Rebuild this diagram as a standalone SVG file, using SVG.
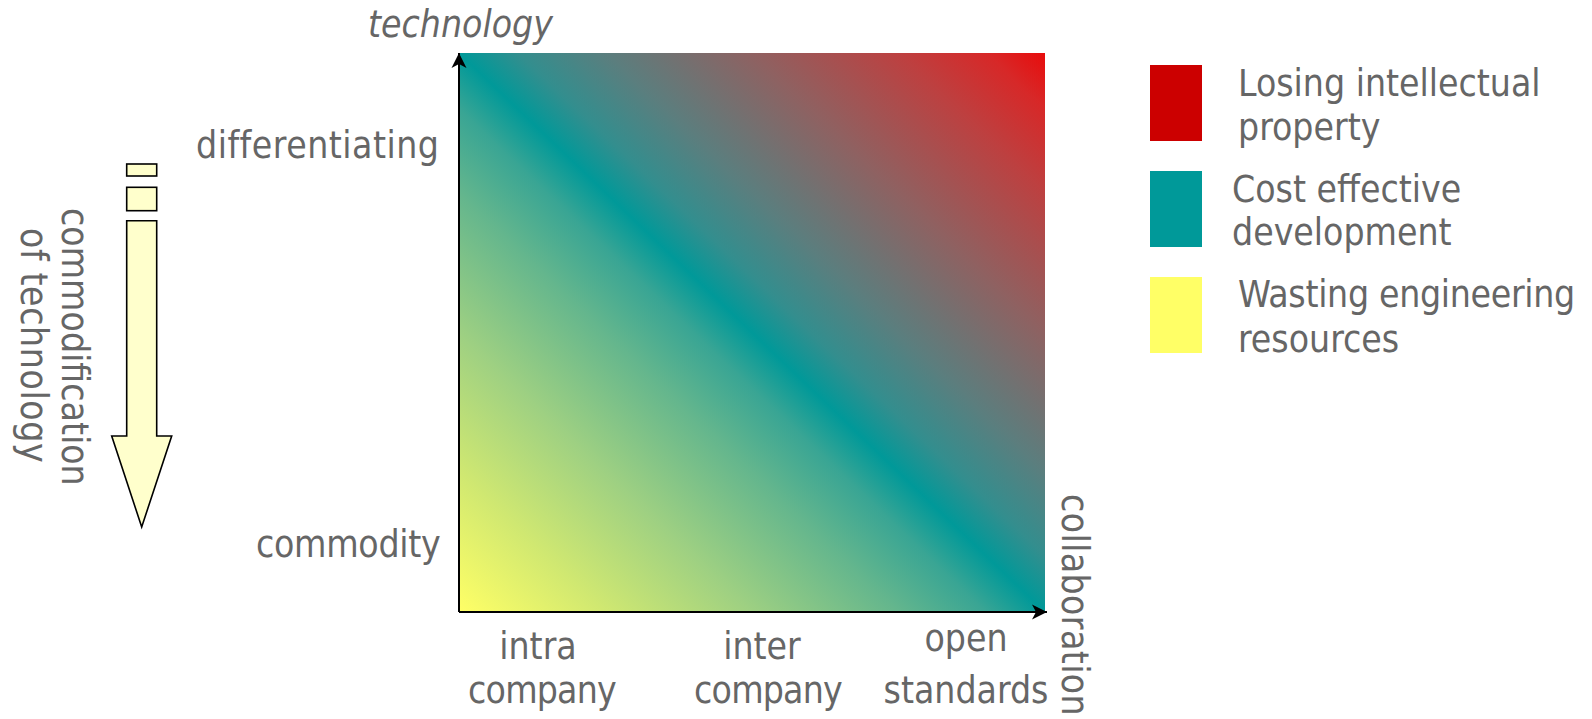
<svg xmlns="http://www.w3.org/2000/svg" width="1592" height="719" viewBox="0 0 1592 719">
  <style>
    .lbl { font-family: "DejaVu Sans", "Liberation Sans", sans-serif; font-stretch: condensed; font-size: 37px; fill: #666666; }
    .mid { text-anchor: middle; }
    .tight { letter-spacing: -0.8px; }
    .axis { stroke: #000; stroke-width: 2; fill: none; }
    .block { fill: #ffffcc; stroke: #000; stroke-width: 1.6; }
  </style>
  <defs>
    <!-- diagonal field: yellow corner, teal diagonal, red corner -->
    <linearGradient id="field" x1="0" y1="1" x2="1" y2="0">
      <stop offset="0" stop-color="#ffff66"/>
      <stop offset="0.125" stop-color="#d0e871"/>
      <stop offset="0.25" stop-color="#9ed082"/>
      <stop offset="0.375" stop-color="#64b68d"/>
      <stop offset="0.45" stop-color="#39a594"/>
      <stop offset="0.5" stop-color="#009999"/>
      <stop offset="0.55" stop-color="#338e8e"/>
      <stop offset="0.625" stop-color="#5b7e7e"/>
      <stop offset="0.75" stop-color="#8f6161"/>
      <stop offset="0.875" stop-color="#bd4040"/>
      <stop offset="0.95" stop-color="#d72828"/>
      <stop offset="1" stop-color="#e80c0c"/>
    </linearGradient>
    <marker id="tip" viewBox="-16 -8 17 16" refX="0" refY="0" markerWidth="17" markerHeight="16" markerUnits="userSpaceOnUse" orient="auto">
      <path d="M0,0 L-15,-7.5 L-11,0 L-15,7.5 Z" fill="#000"/>
    </marker>
  </defs>

  <rect width="1592" height="719" fill="#ffffff"/>

  <!-- gradient field -->
  <g id="field-area">
    <rect x="459" y="53" width="586" height="559" fill="url(#field)"/>
  </g>

  <!-- axes -->
  <g id="connectors">
    <line class="axis" x1="459" y1="612" x2="459" y2="53" marker-end="url(#tip)"/>
    <line class="axis" x1="459" y1="612" x2="1047" y2="612" marker-end="url(#tip)"/>
  </g>

  <!-- axis titles -->
  <g id="y-axis-title">
    <text class="lbl" x="368" y="37" font-style="italic">technology</text>
  </g>
  <g id="x-axis-title">
    <text class="lbl" transform="translate(1062,494) rotate(90)" letter-spacing="0.4">collaboration</text>
  </g>

  <!-- vertical scale labels -->
  <g id="label-differentiating">
    <text class="lbl" x="196" y="158" letter-spacing="0.5">differentiating</text>
  </g>
  <g id="label-commodity">
    <text class="lbl" x="256" y="557" letter-spacing="-0.3">commodity</text>
  </g>

  <!-- horizontal scale labels -->
  <g id="label-intra">
    <text class="lbl mid" x="538" y="659">intra</text>
    <text class="lbl mid tight" x="542" y="703">company</text>
  </g>
  <g id="label-inter">
    <text class="lbl mid" x="762" y="659">inter</text>
    <text class="lbl mid tight" x="768" y="703">company</text>
  </g>
  <g id="label-open">
    <text class="lbl mid" x="966" y="651">open</text>
    <text class="lbl mid" x="966" y="703">standards</text>
  </g>

  <!-- commodification arrow -->
  <g id="commodification-arrow">
    <rect class="block" x="126.7" y="164" width="30" height="12"/>
    <rect class="block" x="126.7" y="187.3" width="30" height="23.4"/>
    <polygon class="block" points="126.7,220.7 156.7,220.7 156.7,436 171.7,436 141.7,527 111.7,436 126.7,436"/>
  </g>
  <g id="commodification-label">
    <text class="lbl" transform="translate(62,208) rotate(90)">commodification</text>
    <text class="lbl" transform="translate(21,228) rotate(90)" letter-spacing="0.6">of technology</text>
  </g>

  <!-- legend -->
  <g id="legend-red">
    <rect x="1150" y="65" width="52" height="76" fill="#cc0000"/>
    <text class="lbl" x="1238" y="96">Losing intellectual</text>
    <text class="lbl" x="1238" y="140">property</text>
  </g>
  <g id="legend-teal">
    <rect x="1150" y="171" width="52" height="76" fill="#009999"/>
    <text class="lbl" x="1232" y="202">Cost effective</text>
    <text class="lbl" x="1232" y="245">development</text>
  </g>
  <g id="legend-yellow">
    <rect x="1150" y="277" width="52" height="76" fill="#ffff66"/>
    <text class="lbl" x="1238" y="307" letter-spacing="-0.3">Wasting engineering</text>
    <text class="lbl" x="1238" y="352">resources</text>
  </g>
</svg>
